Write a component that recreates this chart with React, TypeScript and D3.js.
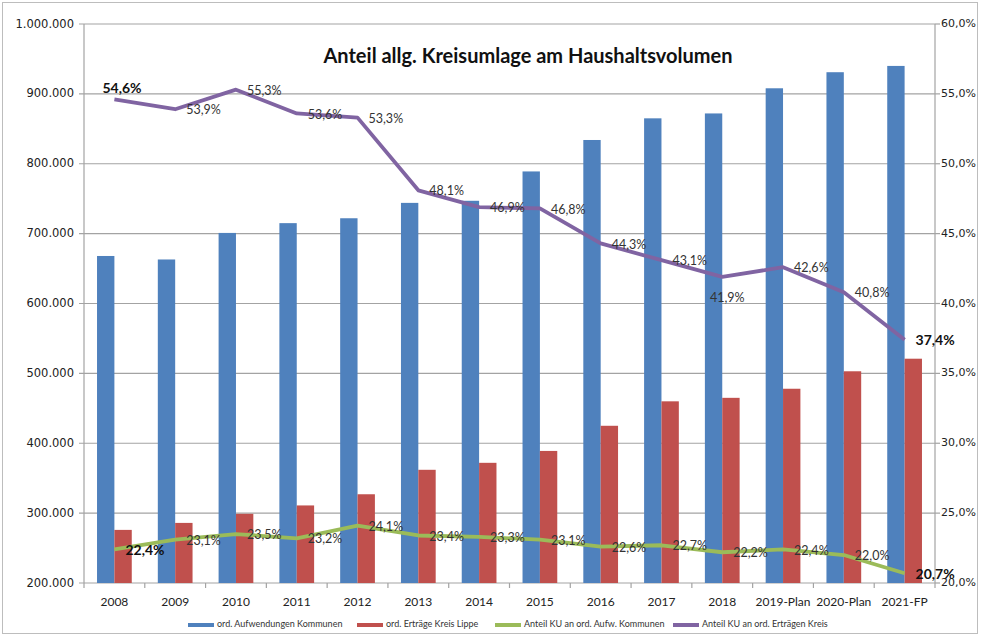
import React from "react";
import * as d3 from "d3";

const categories = [
  "2008", "2009", "2010", "2011", "2012", "2013", "2014",
  "2015", "2016", "2017", "2018", "2019-Plan", "2020-Plan", "2021-FP",
];
const aufwendungen = [668000, 663000, 701000, 715000, 722000, 744000, 747000, 789000, 834000, 865000, 872000, 908000, 931000, 940000];
const ertraege = [276000, 286000, 299000, 311000, 327000, 362000, 372000, 389000, 425000, 460000, 465000, 478000, 503000, 521000];
const anteilAufw = [22.4, 23.1, 23.5, 23.2, 24.1, 23.4, 23.3, 23.1, 22.6, 22.7, 22.2, 22.4, 22.0, 20.7];
const anteilErtr = [54.6, 53.9, 55.3, 53.6, 53.3, 48.1, 46.9, 46.8, 44.3, 43.1, 41.9, 42.6, 40.8, 37.4];
const leftTicks = [200000, 300000, 400000, 500000, 600000, 700000, 800000, 900000, 1000000];
const rightTicks = [20, 25, 30, 35, 40, 45, 50, 55, 60];

const title = "Anteil allg. Kreisumlage am Haushaltsvolumen";
const legendItems = [
  { label: "ord. Aufwendungen Kommunen", color: "#4F81BD", x: 188 },
  { label: "ord. Erträge Kreis Lippe", color: "#C0504D", x: 357 },
  { label: "Anteil KU an ord. Aufw. Kommunen", color: "#9BBB59", x: 495 },
  { label: "Anteil KU an ord. Erträgen Kreis", color: "#8064A2", x: 673 },
];

const de = d3.formatLocale({ decimal: ",", thousands: ".", grouping: [3], currency: ["", "€"] });
const fmtNum = de.format(",.0f");
const fmtPct = de.format(".1f");

const W = 981;
const H = 637;
const m = { left: 84, right: 935, top: 24, bottom: 583 };
const labelFont = "Lato, 'Open Sans', sans-serif";
const axisFont = "'DejaVu Sans', Verdana, sans-serif";

export default function App() {
  const x = d3.scaleBand<string>().domain(categories).range([m.left, m.right]).padding(0);
  const xs = d3.scaleBand<string>().domain(["a", "e"]).range([0, x.bandwidth()]).paddingOuter(0.75);
  const y = d3.scaleLinear().domain([200000, 1000000]).range([m.bottom, m.top]);
  const yr = d3.scaleLinear().domain([20, 60]).range([m.bottom, m.top]);
  const cx = (c: string) => (x(c) ?? 0) + x.bandwidth() / 2;

  const line = d3
    .line<number>()
    .x((_, i) => cx(categories[i]))
    .y((d) => yr(d));

  const lastIdx = categories.length - 1;

  // data labels: "right" of the point, with a couple of exceptions like in the original
  const pctLabel = (vals: number[], key: string) =>
    vals.map((v, i) => {
      const bold = i === 0 || i === lastIdx;
      let px = cx(categories[i]) + 11;
      let py = yr(v) + 2;
      let anchor = "start";
      if (key === "e" && i === 0) {
        px = cx(categories[i]) - 12;
        py = yr(v) - 10;
      }
      if (key === "e" && i === 10) {
        px = cx(categories[i]) + 5;
        py = yr(v) + 22;
        anchor = "middle";
      }
      return (
        <text
          key={key + i}
          x={px}
          y={py}
          textAnchor={anchor}
          dominantBaseline="middle"
          fontFamily={labelFont}
          fontSize={bold ? 14 : 12.5}
          fontWeight={bold ? 700 : 400}
          fill={bold ? "#111" : "#333"}
        >
          {fmtPct(v)}%
        </text>
      );
    });

  return (
    <svg width={W} height={H} style={{ position: "absolute", left: 0, top: 0, background: "#fff" }}>
      <rect x={2.5} y={2.5} width={W - 6} height={H - 6} fill="#fff" stroke="#bdbdbd" />

      {/* grid */}
      {leftTicks.map((t) => (
        <line key={t} x1={m.left - 5} x2={m.right} y1={y(t)} y2={y(t)} stroke="#a3a3a3" strokeWidth={1.2} />
      ))}
      <line x1={m.left} x2={m.left} y1={m.top} y2={m.bottom} stroke="#a3a3a3" strokeWidth={1.2} />
      <line x1={m.right} x2={m.right} y1={m.top} y2={m.bottom} stroke="#a3a3a3" strokeWidth={1.2} />
      {rightTicks.map((t) => (
        <line key={"rt" + t} x1={m.right} x2={m.right + 5} y1={yr(t)} y2={yr(t)} stroke="#a3a3a3" strokeWidth={1.2} />
      ))}
      {categories.concat([""]).map((c, i) => {
        const xx = m.left + i * x.step();
        return <line key={"xt" + i} x1={xx} x2={xx} y1={m.bottom} y2={m.bottom + 5} stroke="#a3a3a3" strokeWidth={1.2} />;
      })}

      {/* bars */}
      {categories.map((c, i) => (
        <g key={"b" + c} transform={`translate(${x(c)},0)`}>
          <rect x={xs("a")} width={xs.bandwidth()} y={y(aufwendungen[i])} height={m.bottom - y(aufwendungen[i])} fill="#4F81BD" />
          <rect x={xs("e")} width={xs.bandwidth()} y={y(ertraege[i])} height={m.bottom - y(ertraege[i])} fill="#C0504D" />
        </g>
      ))}

      {/* lines */}
      <path d={line(anteilAufw) ?? ""} fill="none" stroke="#9BBB59" strokeWidth={3.8} strokeLinejoin="round" />
      <path d={line(anteilErtr) ?? ""} fill="none" stroke="#8064A2" strokeWidth={3.8} strokeLinejoin="round" />

      {pctLabel(anteilErtr, "e")}
      {pctLabel(anteilAufw, "a")}

      {/* axes labels */}
      {leftTicks.map((t) => (
        <text key={"yl" + t} x={74} y={y(t)} textAnchor="end" dominantBaseline="middle" fontFamily={axisFont} fontSize={11.5} fill="#222">
          {fmtNum(t)}
        </text>
      ))}
      {rightTicks.map((t) => (
        <text key={"yr" + t} x={941} y={yr(t)} dominantBaseline="middle" fontFamily={axisFont} fontSize={11} fill="#222">
          {fmtPct(t)}%
        </text>
      ))}
      {categories.map((c) => (
        <text key={"xl" + c} x={cx(c)} y={603} textAnchor="middle" dominantBaseline="middle" fontFamily={labelFont} fontSize={12} fill="#222">
          {c}
        </text>
      ))}

      <text x={528} y={58} textAnchor="middle" dominantBaseline="middle" fontFamily={labelFont} fontSize={20} fontWeight={700} fill="#111">
        {title}
      </text>

      {/* legend */}
      {legendItems.map((l) => (
        <g key={l.label}>
          <line x1={l.x} x2={l.x + 26} y1={625} y2={625} stroke={l.color} strokeWidth={4} />
          <text x={l.x + 29} y={625} dominantBaseline="middle" fontFamily={labelFont} fontSize={9} fill="#333">
            {l.label}
          </text>
        </g>
      ))}
    </svg>
  );
}
